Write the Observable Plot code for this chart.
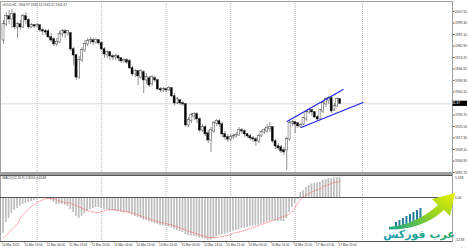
<!DOCTYPE html>
<html><head><meta charset="utf-8">
<script src="https://cdn.jsdelivr.net/npm/d3@7"></script>
<script src="https://cdn.jsdelivr.net/npm/@observablehq/plot@0.6"></script>
<style>
html,body{margin:0;padding:0;background:#fff;}
#wrap{position:relative;width:468px;height:250px;overflow:hidden;background:#fff;font-family:"Liberation Sans",Arial,sans-serif;}
#wrap svg{position:absolute;left:0;overflow:visible}
#sep{position:absolute;left:0;top:172px;width:453px;height:3px;background:#a0a0a0;}
</style></head><body><div id="wrap"></div>
<script>
const title = "GOLD,H1  1944.97 1945.13 1941.22 1941.67";
const macdTitle = "MACD(12,26,9) 5.8154 4.6548";
const open = [1986.8,1998.2,2003.9,2001.8,2005.4,1996.1,1998.2,1996.1,2003.9,2001.1,
1996.1,1997.5,1996.8,1997.5,1994.0,1993.2,1993.2,1989.0,1987.5,1984.0,
1985.4,1991.1,1993.2,1991.8,1991.8,1980.4,1976.1,1960.4,1972.6,1979.7,
1984.0,1986.1,1986.8,1985.4,1986.8,1984.7,1980.4,1976.8,1978.3,1975.4,
1974.7,1975.4,1974.0,1971.9,1972.6,1971.9,1966.9,1962.6,1964.7,1960.4,
1964.0,1958.3,1959.7,1955.5,1959.7,1958.3,1951.9,1951.2,1951.9,1951.2,
1952.6,1946.9,1941.9,1944.0,1941.9,1941.2,1926.2,1929.1,1932.6,1934.1,
1930.5,1922.6,1924.8,1920.5,1915.5,1921.9,1927.6,1929.1,1926.9,1919.8,
1917.7,1916.2,1917.7,1918.4,1919.1,1922.6,1921.9,1919.8,1918.4,1917.0,
1916.2,1914.8,1918.4,1921.2,1921.9,1923.4,1924.8,1914.8,1911.2,1910.5,
1908.4,1908.4,1916.2,1927.6,1928.4,1927.6,1925.5,1926.9,1930.5,1935.5,
1936.9,1935.5,1931.9,1930.5,1936.2,1941.2,1944.0,1945.5,1936.9,1939.8,
1944.97];
const high = [2001.1,2006.8,2008.2,2008.9,2006.8,1999.7,2001.1,2005.4,2006.8,2002.5,
1998.9,1998.2,1998.9,1998.2,1995.4,1994.7,1994.7,1991.8,1989.0,1988.3,
1993.2,1994.7,1994.7,1994.0,1992.5,1981.8,1976.8,1975.4,1981.8,1986.8,
1988.3,1989.0,1988.3,1988.3,1987.5,1986.1,1981.8,1979.7,1979.0,1976.8,
1976.8,1976.1,1974.7,1974.0,1974.0,1973.3,1968.3,1966.1,1965.4,1966.1,
1965.4,1963.3,1961.2,1961.9,1961.2,1959.0,1953.3,1953.3,1952.6,1954.0,
1953.3,1949.0,1946.2,1944.8,1943.3,1941.9,1931.9,1934.8,1935.5,1935.5,
1931.9,1926.9,1926.2,1922.6,1924.8,1929.1,1930.5,1930.5,1928.4,1921.9,
1919.8,1919.8,1919.8,1921.2,1924.8,1924.1,1923.4,1920.5,1919.8,1918.4,
1917.7,1919.8,1922.6,1924.1,1926.9,1928.4,1925.5,1916.2,1913.4,1912.0,
1910.5,1917.7,1929.1,1929.8,1929.1,1928.4,1927.6,1931.9,1936.2,1938.3,
1937.6,1936.2,1933.3,1937.6,1943.3,1946.2,1946.9,1946.2,1941.9,1946.2,
1945.13];
const low = [1984.0,1996.8,1998.2,1995.4,1994.7,1988.3,1994.0,1995.4,1998.2,1994.7,
1995.4,1995.4,1996.1,1992.5,1990.4,1990.4,1988.3,1985.4,1982.5,1982.5,
1984.7,1989.0,1988.3,1989.7,1979.0,1969.0,1958.3,1959.0,1971.1,1978.3,
1982.5,1984.0,1983.3,1984.0,1983.3,1979.7,1974.0,1974.0,1972.6,1972.6,
1972.6,1971.9,1970.4,1970.4,1969.7,1966.1,1961.2,1960.4,1954.7,1959.0,
1949.0,1955.5,1953.3,1954.0,1956.9,1951.2,1949.7,1949.7,1949.7,1950.5,
1946.2,1940.5,1941.2,1940.5,1939.8,1924.8,1924.8,1927.6,1929.8,1927.6,
1921.2,1921.2,1918.4,1913.4,1907.0,1920.5,1925.5,1924.8,1917.7,1915.5,
1914.1,1914.8,1916.2,1917.0,1918.4,1919.8,1917.7,1917.0,1915.5,1914.1,
1911.2,1913.4,1917.7,1919.8,1920.5,1921.2,1913.4,1909.1,1908.4,1906.3,
1904.8,1894.1,1914.8,1925.5,1920.5,1924.1,1924.1,1926.2,1929.1,1934.1,
1932.6,1931.2,1929.1,1929.8,1934.8,1939.1,1941.2,1934.8,1936.2,1939.1,
1941.22];
const close = [1998.2,2003.9,2001.8,2005.4,1996.1,1998.2,1996.1,2003.9,2001.1,1996.1,
1997.5,1996.8,1997.5,1994.0,1993.2,1992.5,1989.0,1986.8,1984.0,1985.4,
1991.1,1993.2,1991.8,1993.2,1980.4,1976.1,1960.4,1972.6,1979.7,1984.0,
1986.1,1986.8,1985.4,1986.8,1984.7,1980.4,1976.8,1978.3,1975.4,1974.7,
1975.4,1974.0,1971.9,1972.6,1971.1,1966.9,1962.6,1964.7,1961.2,1964.7,
1958.3,1960.4,1954.7,1960.4,1958.3,1951.9,1951.2,1951.9,1951.2,1952.6,
1946.9,1941.9,1944.8,1941.9,1941.2,1926.2,1929.8,1933.3,1934.1,1930.5,
1922.6,1924.8,1919.8,1915.5,1922.6,1927.6,1929.1,1926.9,1919.8,1917.7,
1916.2,1917.7,1918.4,1919.1,1922.6,1921.9,1919.8,1918.4,1917.0,1916.2,
1914.8,1918.4,1921.2,1922.6,1924.1,1924.8,1914.8,1911.2,1909.8,1907.7,
1907.0,1916.2,1927.6,1928.4,1926.9,1925.5,1926.2,1931.2,1935.5,1936.9,
1935.5,1931.9,1930.5,1936.9,1941.9,1944.8,1945.5,1936.2,1939.8,1944.8,
1941.67];
const macd = [-10.5,-7.3,-6.1,-4.7,-3.8,-3.2,-2.6,-2.0,-1.7,-1.5,
-1.2,-0.9,-0.6,-0.4,-0.4,-0.4,-0.6,-0.9,-1.5,-2.0,
-2.0,-2.0,-2.3,-2.6,-3.5,-4.4,-5.5,-6.1,-5.5,-4.7,
-4.1,-3.5,-3.2,-2.9,-2.9,-3.2,-3.5,-3.6,-3.8,-3.9,
-4.1,-4.1,-4.2,-4.4,-4.4,-4.7,-5.1,-5.5,-5.8,-6.1,
-6.6,-6.7,-7.1,-7.3,-7.6,-7.9,-8.2,-8.3,-8.5,-8.6,
-8.9,-9.3,-9.6,-9.9,-10.2,-10.8,-11.1,-11.2,-11.4,-11.5,
-11.8,-12.0,-12.2,-12.5,-12.4,-12.0,-11.5,-11.1,-10.9,-10.7,
-10.4,-10.1,-9.8,-9.6,-9.4,-9.1,-8.9,-8.7,-8.5,-8.4,
-8.3,-8.1,-7.8,-7.5,-7.2,-6.9,-6.8,-6.9,-7.0,-7.0,
-7.0,-6.1,-4.4,-2.9,-1.7,-0.6,1.5,2.0,2.9,3.5,
3.9,4.1,4.2,4.4,5.0,5.2,5.5,5.5,5.7,5.8,
5.8];
const signal = [-11.7,-11.1,-10.2,-9.3,-8.5,-7.6,-6.0,-5.0,-4.1,-3.2,
-2.6,-2.0,-1.5,-1.0,-0.7,-0.4,-0.3,-0.3,-0.4,-0.7,
-1.0,-1.2,-1.5,-1.6,-1.7,-2.0,-2.3,-2.8,-3.1,-3.5,
-3.8,-4.1,-4.2,-4.4,-4.4,-4.1,-3.8,-3.6,-3.5,-3.5,
-3.6,-3.8,-3.9,-4.1,-4.2,-4.4,-4.5,-4.8,-5.1,-5.4,
-5.7,-6.0,-6.3,-6.6,-6.7,-7.0,-7.3,-7.4,-7.6,-7.9,
-8.0,-8.3,-8.6,-8.9,-9.2,-9.5,-9.8,-10.1,-10.4,-10.6,
-10.9,-11.2,-11.4,-11.7,-11.7,-11.7,-11.7,-11.5,-11.4,-11.2,
-11.1,-10.8,-10.5,-10.2,-10.1,-9.9,-9.6,-9.3,-9.0,-8.7,
-8.5,-8.2,-7.9,-7.6,-7.3,-7.0,-6.7,-6.4,-6.1,-5.8,
-5.5,-5.2,-4.8,-4.1,-2.9,-1.5,-0.4,0.3,0.7,1.2,
1.6,2.0,2.3,2.6,3.2,3.5,3.8,4.1,4.4,4.5,
4.7];
const priceTicks = [2007.5,1999.3,1991.1,1982.9,1974.7,1966.5,1958.3,1950.1,1933.7,1925.5,1917.3,1909.1,1900.9,1892.7];
const timeLabels = ["10 Mar 2022","10 Mar 19:00","11 Mar 04:00","11 Mar 13:00","11 Mar 20:00","14 Mar 04:00","14 Mar 13:00","14 Mar 20:00","15 Mar 05:00","15 Mar 13:00","15 Mar 21:00","16 Mar 06:00","16 Mar 14:00","16 Mar 22:00","17 Mar 07:00","17 Mar 15:00"];
const timeTickBars = [0,8,16,24,32,40,48,56,64,72,80,88,96,104,112,120];
const gridBars = [12,35,58,81,104,128];
const channelUpper = [{i:101.1,p:1929.1},{i:121.1,p:1951.9}];
const channelLower = [{i:106.1,p:1924.8},{i:128.2,p:1942.6}];
const macdMax = 6.415, macdMin = -12.83;
const macdTopLabel = "5.148", macdZeroLabel = "0.00", macdBottomLabel = "-12.83";

const N = close.length;
const bars = d3.range(N).map(i => ({i, o: open[i], h: high[i], l: low[i], c: close[i], m: macd[i], s: signal[i]}));
const xDomain = [-1.07, 160.1];
const labelMap = new Map(timeTickBars.map((b, k) => [b, timeLabels[k]]));
const last = close[N - 1];
const grid = {stroke: "#8c8c8c", strokeWidth: 0.7, strokeDasharray: "0.9,1.1"};

const main = Plot.plot({
  width: 468, height: 175, marginLeft: 0, marginRight: 16, marginTop: 1, marginBottom: 3,
  x: {domain: xDomain, axis: null},
  y: {domain: [1892.70, 2014.63], axis: null},
  style: {background: "transparent", fontFamily: "Liberation Sans, Arial, sans-serif"},
  marks: [
    Plot.ruleX(gridBars, grid),
    Plot.ruleY([last], {stroke: "#cfcfcf", strokeWidth: 0.8}),
    Plot.ruleX(bars, {x: "i", y1: "l", y2: "h", stroke: "#222", strokeWidth: 0.5}),
    Plot.rect(bars, {x1: d => d.i - 0.36, x2: d => d.i + 0.36, y1: d => Math.min(d.o, d.c), y2: d => Math.max(d.o, d.c) + 0.2,
      fill: d => d.c >= d.o ? "#fff" : "#000", stroke: "#222", strokeWidth: 0.4}),
    Plot.line(channelUpper, {x: "i", y: "p", stroke: "#2020ff", strokeWidth: 1.1}),
    Plot.line(channelLower, {x: "i", y: "p", stroke: "#2020ff", strokeWidth: 1.1}),
    Plot.frame({stroke: "#a0a0a0", strokeWidth: 1}),
    Plot.axisY({anchor: "right", ticks: priceTicks, tickFormat: d => d.toFixed(2), fontSize: 3.3, tickSize: 1.5, tickPadding: 1, stroke: "#555", fill: "#333"}),
    Plot.text([title], {text: d => d, frameAnchor: "top-left", dx: 2, dy: 2, fontSize: 3.2, fill: "#333"}),
    (index, {y}, values, dims) => {
      const g = d3.create("svg:g");
      const yy = y(last);
      const x0 = dims.width - dims.marginRight;
      g.append("rect").attr("x", x0 + 0.5).attr("y", yy - 2.6).attr("width", 14.5).attr("height", 5.2).attr("fill", "#000");
      g.append("text").attr("x", x0 + 2.2).attr("y", yy).attr("dy", "0.35em").attr("font-size", 3.3).attr("fill", "#fff").text(last.toFixed(2));
      return g.node();
    }
  ]
});
main.style.top = "0px";

const sub = Plot.plot({
  width: 468, height: 77, marginLeft: 0, marginRight: 16, marginTop: 2, marginBottom: 9,
  x: {domain: xDomain, axis: null},
  y: {domain: [macdMin, macdMax], axis: null},
  style: {background: "transparent", fontFamily: "Liberation Sans, Arial, sans-serif"},
  marks: [
    Plot.ruleX(gridBars, grid),
    Plot.rect(bars, {x1: d => d.i - 0.3, x2: d => d.i + 0.3, y1: 0, y2: "m", fill: "#bdbdbd"}),
    Plot.line(bars, {x: "i", y: "s", stroke: "#ff5a5a", strokeWidth: 0.7, strokeDasharray: "0.7,1.4"}),
    Plot.frame({stroke: "#a0a0a0", strokeWidth: 1}),
    Plot.axisX({anchor: "bottom", ticks: timeTickBars, tickFormat: d => labelMap.get(d), textAnchor: "start", dx: -1.5, fontSize: 3.1, tickSize: 1.5, tickPadding: 0.8, stroke: "#555", fill: "#333"}),
    Plot.tickY([macdMax, 0, macdMin], {x1: xDomain[1], x2: xDomain[1] + 0.5, stroke: "#555"}),
    Plot.text([macdTopLabel], {text: d => d, x: xDomain[1], y: macdMax, dx: 2.5, dy: 2, textAnchor: "start", fontSize: 3.3, fill: "#333"}),
    Plot.text([macdZeroLabel], {text: d => d, x: xDomain[1], y: 0, dx: 2.5, textAnchor: "start", fontSize: 3.3, fill: "#333"}),
    Plot.text([macdBottomLabel], {text: d => d, x: xDomain[1], y: macdMin, dx: 2.5, dy: -1.2, textAnchor: "start", fontSize: 3.3, fill: "#333"}),
    Plot.text([macdTitle], {text: d => d, frameAnchor: "top-left", dx: 2, dy: 1.5, fontSize: 3.2, fill: "#333"})
  ]
});
sub.style.top = "173px";

const wrap = document.getElementById("wrap");
wrap.appendChild(main);
const sep = document.createElement("div"); sep.id = "sep"; wrap.appendChild(sep);
wrap.appendChild(sub);

// watermark logo (decoration)
const logo = `<svg width="468" height="250" style="position:absolute;left:0;top:0;pointer-events:none">
<defs>
<linearGradient id="ga" x1="0" y1="1" x2="1" y2="0">
<stop offset="0" stop-color="#17a58c"/><stop offset="0.45" stop-color="#86cc2c"/><stop offset="1" stop-color="#e8f000"/>
</linearGradient>
<linearGradient id="gb" x1="0" y1="0" x2="1" y2="0">
<stop offset="0" stop-color="#2a5fb0"/><stop offset="1" stop-color="#1fa08c"/>
</linearGradient>
<linearGradient id="gt" x1="0" y1="0" x2="1" y2="0">
<stop offset="0" stop-color="#1a9cb4"/><stop offset="1" stop-color="#27a866"/>
</linearGradient>
</defs>
<g fill="url(#gb)">
<rect x="395" y="222" width="2" height="4"/><rect x="398.5" y="220" width="2" height="6"/>
<rect x="402" y="218" width="2" height="8"/><rect x="405.5" y="216" width="2" height="10"/>
<rect x="409" y="214" width="2" height="12"/><rect x="412.5" y="212" width="2" height="13"/>
<rect x="416" y="210" width="2" height="14"/><rect x="419.5" y="208" width="2" height="14"/>
</g>
<path d="M389,227 Q417,224 438,205 L432,199 L455,193 L450,216 L444,210 Q422,230 389,229.5 Z" fill="url(#ga)"/>
<path d="M425,213 L431,202 L435,207 Z" fill="#ffffff" opacity="0.85"/>
<text x="419" y="237.5" text-anchor="middle" font-family="DejaVu Sans" font-weight="bold" font-size="11" fill="url(#gt)">عرب فوركس</text>
</svg>`;
wrap.insertAdjacentHTML("beforeend", logo);
</script></body></html>
